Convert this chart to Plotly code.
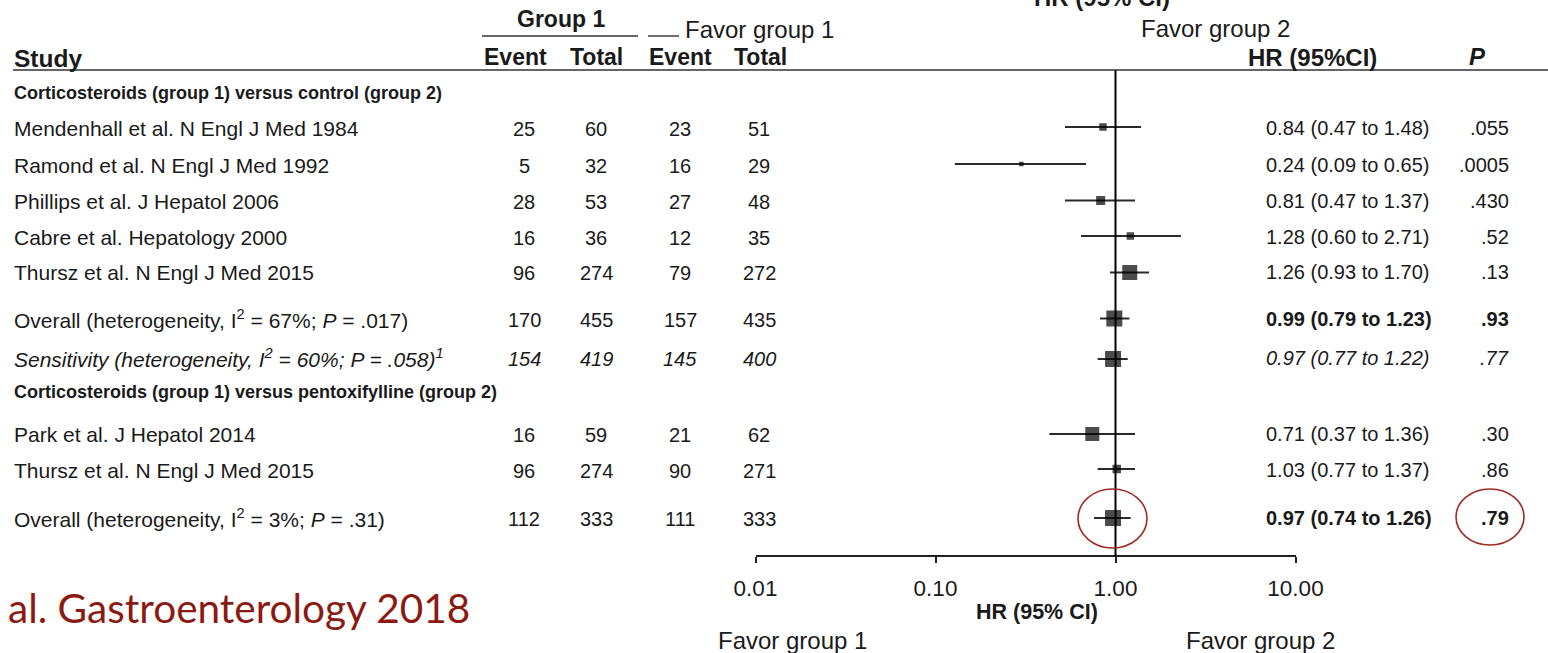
import plotly.graph_objects as go

W, H = 1548, 653

# ---------------- data ----------------
studies = [
    "Mendenhall et al. N Engl J Med 1984",
    "Ramond et al. N Engl J Med 1992",
    "Phillips et al. J Hepatol 2006",
    "Cabre et al. Hepatology 2000",
    "Thursz et al. N Engl J Med 2015",
    "Overall (heterogeneity, I<sup>2</sup> = 67%; <i>P</i> = .017)",
    "<i>Sensitivity (heterogeneity, I<sup>2</sup> = 60%; P = .058)<sup>1</sup></i>",
    "Park et al. J Hepatol 2014",
    "Thursz et al. N Engl J Med 2015",
    "Overall (heterogeneity, I<sup>2</sup> = 3%; <i>P</i> = .31)",
]
row_kind = ["study", "study", "study", "study", "study", "overall", "sens", "study", "study", "overall"]
event1 = [25, 5, 28, 16, 96, 170, 154, 16, 96, 112]
total1 = [60, 32, 53, 36, 274, 455, 419, 59, 274, 333]
event2 = [23, 16, 27, 12, 79, 157, 145, 21, 90, 111]
total2 = [51, 29, 48, 35, 272, 435, 400, 62, 271, 333]
hr_text = [
    "0.84 (0.47 to 1.48)", "0.24 (0.09 to 0.65)", "0.81 (0.47 to 1.37)",
    "1.28 (0.60 to 2.71)", "1.26 (0.93 to 1.70)", "0.99 (0.79 to 1.23)",
    "0.97 (0.77 to 1.22)", "0.71 (0.37 to 1.36)", "1.03 (0.77 to 1.37)",
    "0.97 (0.74 to 1.26)",
]
p_text = [".055", ".0005", ".430", ".52", ".13", ".93", ".77", ".30", ".86", ".79"]
# point estimates / CI as drawn in the picture
hr_plot = [0.852, 0.30, 0.827, 1.21, 1.20, 0.985, 0.969, 0.743, 1.016, 0.969]
lo_plot = [0.524, 0.128, 0.524, 0.643, 0.932, 0.820, 0.796, 0.429, 0.796, 0.760]
hi_plot = [1.386, 0.686, 1.283, 2.31, 1.535, 1.195, 1.169, 1.283, 1.283, 1.214]
box_size = [7.5, 4.5, 9, 7.5, 15, 16, 16, 14, 8.5, 16]
section_titles = [
    "Corticosteroids (group 1) versus control (group 2)",
    "Corticosteroids (group 1) versus pentoxifylline (group 2)",
]
tick_vals = [0.01, 0.1, 1, 10]
tick_text = ["0.01", "0.10", "1.00", "10.00"]

# ---------------- layout positions (pixels) ----------------
row_y = [128, 165, 201, 237, 272, 319, 358, 434, 470, 518]
marker_y = [127, 164, 200.5, 236, 272.5, 318.5, 359, 434, 469, 518]
section_y = [93, 392]
AX_Y = 556
FONT = "Liberation Sans, Arial, sans-serif"
FS = 20
HS = 23
INK = "#1a1a1a"
RED = "#9e2a22"


def px(x):
    return x / W


fig = go.Figure()

fig.add_trace(go.Scatter(
    x=hr_plot, y=marker_y, mode="markers",
    marker=dict(symbol="square", size=box_size, color="#000000", line=dict(width=0)),
    error_x=dict(type="data", symmetric=False,
                 array=[h - m for h, m in zip(hi_plot, hr_plot)],
                 arrayminus=[m - l for m, l in zip(hr_plot, lo_plot)],
                 width=0, thickness=2, color="#2a2a2a"),
    showlegend=False, hoverinfo="skip",
))

ann = []


def txt(x, y, s, size=FS, anchor="left", bold=False, color=INK, family=FONT, yref="y"):
    if bold:
        s = "<b>" + s + "</b>"
    ann.append(dict(x=px(x), y=y, xref="paper", yref=yref, text=s, showarrow=False,
                    xanchor=anchor, yanchor="middle", borderpad=0,
                    font=dict(size=size, color=color, family=family)))


# headers
txt(1102, 1 + 3 / H, "HR (95% CI)", size=24, anchor="center", bold=True, yref="paper")
txt(561, 19, "Group 1", size=HS, anchor="center", bold=True)
txt(684, 29, "Favor group 1", size=24)
txt(1140, 28, "Favor group 2", size=24)
txt(13, 58, "Study", size=24.5, bold=True)
txt(515, 57, "Event", size=HS, anchor="center", bold=True)
txt(596, 57, "Total", size=HS, anchor="center", bold=True)
txt(680, 57, "Event", size=HS, anchor="center", bold=True)
txt(760, 57, "Total", size=HS, anchor="center", bold=True)
txt(1312, 57, "HR (95%CI)", size=24, anchor="center", bold=True)
txt(1477, 56, "<i>P</i>", size=24, anchor="center", bold=True)

for t, y in zip(section_titles, section_y):
    txt(13, y, t, size=18, bold=True)

for i in range(len(studies)):
    kind = row_kind[i]
    y = row_y[i]
    wrap = (lambda s: "<i>" + s + "</i>") if kind == "sens" else (lambda s: s)
    txt(13, y, studies[i], size=21)
    txt(524, y + 1, wrap(str(event1[i])), anchor="center")
    txt(596, y + 1, wrap(str(total1[i])), anchor="center")
    txt(680, y + 1, wrap(str(event2[i])), anchor="center")
    txt(759, y + 1, wrap(str(total2[i])), anchor="center")
    txt(1265, y, wrap(hr_text[i]), bold=(kind == "overall"))
    txt(1510, y, wrap(p_text[i]), anchor="right", bold=(kind == "overall"))

# bottom labels
txt(1037, 612, "HR (95% CI)", size=21.5, anchor="center", bold=True)
txt(717, 640, "Favor group 1", size=24)
txt(1185, 640, "Favor group 2", size=24)
txt(7, 607, "al. Gastroenterology 2018", size=40.5, color="#8b1a12", family="Lato, sans-serif")

shapes = [
    dict(type="line", xref="x", yref="y", x0=1, x1=1, y0=70, y1=AX_Y,
         line=dict(color="black", width=2)),
    dict(type="line", xref="paper", yref="y", x0=px(13), x1=1, y0=70, y1=70,
         line=dict(color="#333", width=1.6)),
    dict(type="line", xref="paper", yref="y", x0=px(482), x1=px(638), y0=36, y1=36,
         line=dict(color="#333", width=1.4)),
    dict(type="line", xref="paper", yref="y", x0=px(648), x1=px(679), y0=36, y1=36,
         line=dict(color="#333", width=1.4)),
    dict(type="circle", xref="paper", yref="y", x0=px(1078), x1=px(1147), y0=489, y1=548,
         line=dict(color=RED, width=1.6)),
    dict(type="circle", xref="paper", yref="y", x0=px(1456), x1=px(1524), y0=489, y1=545,
         line=dict(color=RED, width=1.6)),
]

fig.update_layout(
    width=W, height=H, margin=dict(l=0, r=0, t=0, b=0, autoexpand=False),
    paper_bgcolor="white", plot_bgcolor="white",
    annotations=ann, shapes=shapes,
    xaxis=dict(type="log", range=[-2, 1], domain=[px(755.5), px(1295.5)],
               anchor="free", position=1 - AX_Y / H, automargin=False,
               showline=True, linecolor="#222", linewidth=2,
               ticks="outside", ticklen=6, tickwidth=2, tickcolor="#222",
               tickvals=tick_vals, ticktext=tick_text, ticklabelstandoff=6,
               tickfont=dict(size=22.5, family=FONT, color=INK),
               showgrid=False, zeroline=False, fixedrange=True),
    yaxis=dict(range=[H, 0], domain=[0, 1], visible=False, showgrid=False,
               zeroline=False, fixedrange=True, automargin=False),
)

fig.write_html("out.html")
